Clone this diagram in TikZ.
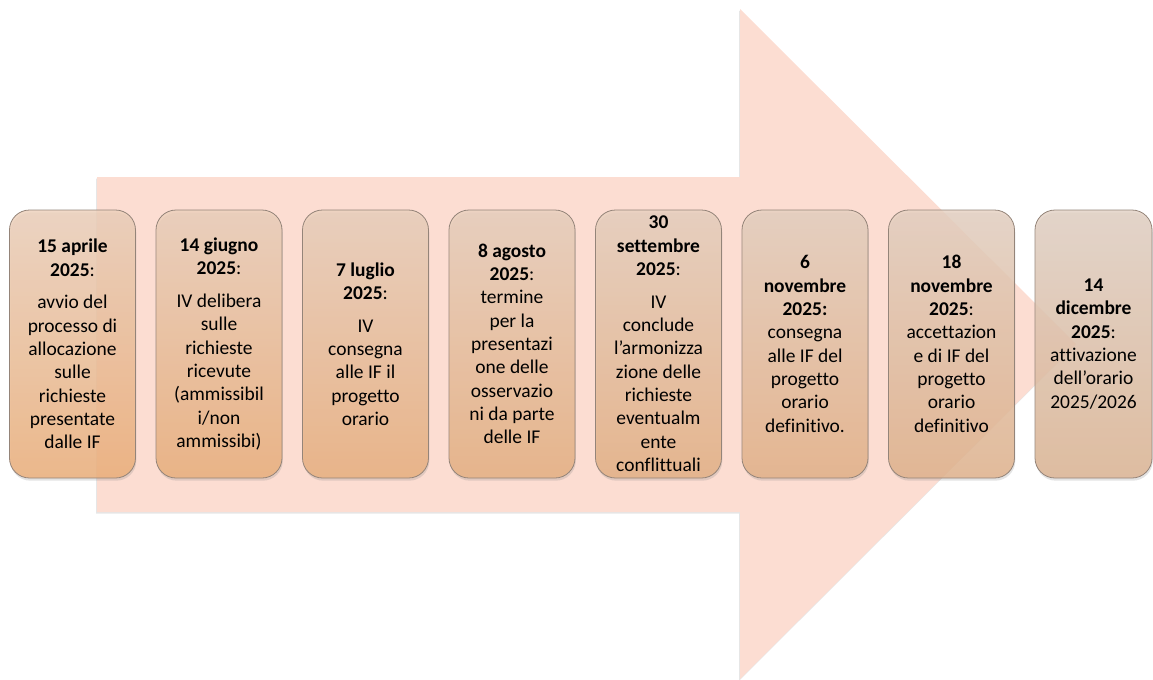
\documentclass[tikz,border=0pt]{standalone}
\usepackage{fontspec}
\setmainfont{Carlito}[Ligatures=CommonOff]
\usetikzlibrary{shadows}
\definecolor{arrowfill}{HTML}{FCDDD2}
\definecolor{topA}{HTML}{EDD0BB}
\definecolor{topB}{HTML}{E2D1C4}
\definecolor{botA}{HTML}{EEAF78}
\definecolor{botB}{HTML}{DEB492}
\definecolor{boxline}{HTML}{948479}
\begin{document}
\begin{tikzpicture}[x=0.75pt,y=-0.75pt,
  bigarrow/.style={fill=arrowfill, drop shadow={opacity=0.2, shadow xshift=-0.6pt, shadow yshift=-1.2pt}},
  tbox/.style={rectangle, rounded corners=15pt, draw=boxline, line width=0.6pt,
    minimum width=94.5pt, minimum height=201pt, inner sep=0pt,
    top color=topA!#1!topB, bottom color=botA!#1!botB,
    fill opacity=0.82, draw opacity=1, text opacity=1, align=center,
    font=\fontsize{14.6pt}{17.5pt}\selectfont,
    drop shadow={opacity=0.22, shadow xshift=0.6pt, shadow yshift=-2pt}}]
\useasboundingbox (0,0) rectangle (1153,679);
\clip (0,0) rectangle (1153,679);
\path[bigarrow] (97,177) -- (740,177) -- (740,9) -- (1076,344) -- (740,679) -- (740,512) -- (97,512) -- cycle;
\node[tbox=100] (b1) at (72.5,344) {\textbf{15 aprile}\\\textbf{2025}:\\[7pt]avvio del\\processo di\\allocazione\\sulle\\richieste\\presentate\\dalle IF};
\node[tbox=88] (b2) at (219,344) {\textbf{14 giugno}\\\textbf{2025}:\\[7pt]IV delibera\\sulle\\richieste\\ricevute\\(ammissibil\\i/non\\ammissibi)};
\node[tbox=76] (b3) at (365.5,344) {\textbf{7 luglio}\\\textbf{2025}:\\[7pt]IV\\consegna\\alle IF il\\progetto\\orario};
\node[tbox=64] (b4) at (512,344) {\textbf{8 agosto}\\\textbf{2025}:\\termine\\per la\\presentazi\\one delle\\osservazio\\ni da parte\\delle IF};
\node[tbox=52] (b5) at (658.5,344) {\textbf{30}\\\textbf{settembre}\\\textbf{2025}:\\[7pt]IV\\conclude\\l’armonizza\\zione delle\\richieste\\eventualm\\ente\\conflittuali};
\node[tbox=40] (b6) at (805,344) {\textbf{6}\\\textbf{novembre}\\\textbf{2025:}\\consegna\\alle IF del\\progetto\\orario\\definitivo.};
\node[tbox=25] (b7) at (951.5,344) {\textbf{18}\\\textbf{novembre}\\\textbf{2025}:\\accettazion\\e di IF del\\progetto\\orario\\definitivo};
\node[tbox=0, minimum width=87.75pt] (b8) at (1093.5,344) {\textbf{14}\\\textbf{dicembre}\\\textbf{2025}:\\attivazione\\dell’orario\\2025/2026};
\end{tikzpicture}
\end{document}
